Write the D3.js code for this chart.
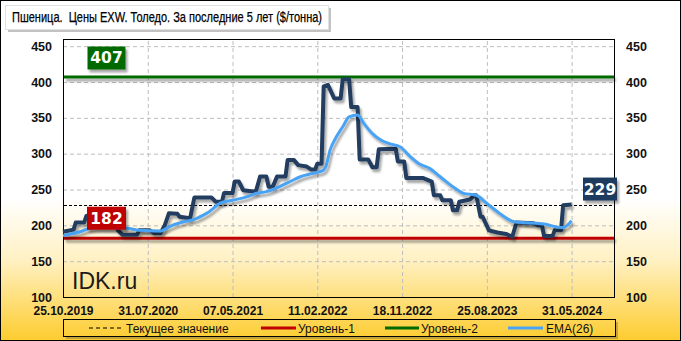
<!DOCTYPE html>
<html>
<head>
<meta charset="utf-8">
<script src="https://cdnjs.cloudflare.com/ajax/libs/d3/7.8.5/d3.min.js"></script>
<style>
body { margin: 0; background: #fff; }
svg text { font-family: "Liberation Sans", Arial, sans-serif; }
.axis-lbl text { font-weight: bold; font-size: 12.5px; fill: #111; }
.x-lbl text { font-weight: bold; font-size: 12px; fill: #111; }
.grid line { stroke: #bdbdbd; stroke-dasharray: 4,3; }
.legend-txt { font-size: 12px; fill: #111; }
</style>
</head>
<body>
<svg id="chart" width="681" height="341"></svg>
<script>
"use strict";

const TITLE = "Пшеница.  Цены EXW. Толедо. За последние 5 лет ($/тонна)";
const X_TICK_LABELS = ["25.10.2019", "31.07.2020", "07.05.2021", "11.02.2022", "18.11.2022", "25.08.2023", "31.05.2024"];
const Y_TICKS = [100, 150, 200, 250, 300, 350, 400, 450];

// weekly series, weeks counted from 25.10.2019
const PRICE_WEEKS = [0, 5, 6, 10, 11, 17, 22, 25, 26, 28, 35, 36, 41, 43, 46, 48, 50, 54, 55, 60,
    62, 70, 72, 75, 76, 80, 81, 83, 85, 91, 93, 96, 97, 99, 101, 105, 106, 109, 111, 115,
    117, 119, 120, 122, 123, 125, 128, 131, 132, 135, 136, 139, 140, 144, 146, 148, 149, 157, 158, 161,
    162, 170, 174, 175, 178, 179, 183, 184, 186, 187, 192, 194, 195, 197, 198, 201, 205, 209, 212, 214,
    222, 224, 226, 227, 231, 232, 235, 236, 240];
const PRICE_VALUES = [191, 194, 204, 204, 213, 217, 212, 200, 193, 187, 187, 193, 193, 189, 189, 200, 217, 216, 212, 210,
    239, 239, 233, 233, 245, 245, 261, 261, 249, 247, 268, 268, 254, 254, 268, 268, 291, 291, 284, 282,
    278, 278, 286, 286, 394, 396, 377, 377, 404, 404, 365, 365, 292, 292, 281, 281, 306, 307, 289, 289,
    266, 266, 261, 242, 242, 235, 235, 221, 221, 233, 236, 242, 242, 212, 212, 193, 190, 188, 184, 204,
    203, 200, 200, 185, 185, 193, 193, 228, 229];

const EMA_WEEKS = [0, 8, 13, 17, 30, 36, 46, 50, 57, 61, 66, 69, 74, 80, 87, 91, 96, 102, 107, 112,
    118, 123, 124, 126, 129, 132, 135, 139, 142, 146, 150, 154, 159, 164, 168, 173, 178, 184, 189, 195,
    200, 206, 213, 219, 227, 235, 236, 240];
const EMA_VALUES = [185.5, 191, 196, 197, 196, 193, 192, 198, 205, 207.4, 214, 219, 230.6, 235, 240, 244.6, 247, 253.8, 260.8, 267.8,
    272.5, 277, 281.7, 305, 323.5, 337.5, 351.4, 354, 342, 328, 319, 314, 309.6, 295.6, 286, 279.5, 267.8, 253.8, 244.6, 242,
    230.6, 216.7, 205, 203.6, 201.8, 197, 197, 206.4];

const LEVEL_1 = 182;
const LEVEL_2 = 407;
const CURRENT = 229;
const LEGEND_LABELS = ["Текущее значение", "Уровень-1", "Уровень-2", "EMA(26)"];

const plot = { left: 63, right: 614, top: 39, bottom: 297 };
const COLORS = { price: "#213c5e", ema: "#4aa3f5", lvl1: "#c00000", lvl2: "#006a00", tag229: "#1c3a5e" };

const parseDate = d3.timeParse("%d.%m.%Y");
const startDate = parseDate(X_TICK_LABELS[0]);
const weekToDate = w => d3.timeDay.offset(startDate, w * 7);

const svg = d3.select("#chart");
const defs = svg.append("defs");

const bg = defs.append("linearGradient")
    .attr("id", "bg").attr("gradientUnits", "userSpaceOnUse")
    .attr("x1", 0).attr("y1", 0).attr("x2", 0).attr("y2", 341);
bg.append("stop").attr("offset", "0").attr("stop-color", "#ffffff");
bg.append("stop").attr("offset", "0.58").attr("stop-color", "#ffffff");
bg.append("stop").attr("offset", "0.76").attr("stop-color", "#fff1c4");
bg.append("stop").attr("offset", "1").attr("stop-color", "#fdcc2e");

const shadow = defs.append("filter").attr("id", "shadow")
    .attr("filterUnits", "userSpaceOnUse")
    .attr("x", 0).attr("y", 0).attr("width", 681).attr("height", 341);
shadow.append("feDropShadow").attr("dx", 2).attr("dy", 3).attr("stdDeviation", 1.2)
    .attr("flood-color", "#000").attr("flood-opacity", 0.35);

// background + outer frame
svg.append("rect").attr("x", 0.5).attr("y", 0.5).attr("width", 680).attr("height", 340)
    .attr("fill", "url(#bg)").attr("stroke", "#000").attr("stroke-width", 1);

// title
svg.append("rect").attr("x", 8).attr("y", 8).attr("width", 323).attr("height", 24).attr("fill", "#9a9a9a").attr("opacity", 0.6);
svg.append("rect").attr("x", 5.5).attr("y", 5.5).attr("width", 323).attr("height", 24)
    .attr("fill", "#fff").attr("stroke", "#e0e0e0");
svg.append("text").attr("x", 12).attr("y", 22)
    .style("white-space", "pre")
    .style("font-family", "'Liberation Sans Narrow', 'Liberation Sans', Arial, sans-serif")
    .style("font-size", "14px").attr("fill", "#000")
    .attr("stroke", "#000").attr("stroke-width", 0.25)
    .attr("textLength", 310).attr("lengthAdjust", "spacingAndGlyphs")
    .text(TITLE);

// scales
const x = d3.scaleTime()
    .domain([startDate, d3.timeDay.offset(startDate, 260 * 7)])
    .range([plot.left, plot.right]);
const y = d3.scaleLinear().domain([100, 460]).range([plot.bottom, plot.top]);
const xTicks = X_TICK_LABELS.map(parseDate);

// grid
svg.append("g").attr("class", "grid")
    .attr("transform", `translate(${plot.left},0)`)
    .call(d3.axisLeft(y).tickValues(Y_TICKS).tickSize(-(plot.right - plot.left)).tickFormat(""))
    .call(g => g.select(".domain").remove());
svg.append("g").attr("class", "grid")
    .attr("transform", `translate(0,${plot.bottom})`)
    .call(d3.axisBottom(x).tickValues(xTicks).tickSize(-(plot.bottom - plot.top)).tickFormat(""))
    .call(g => g.select(".domain").remove());

// axes labels
svg.append("g").attr("class", "axis-lbl")
    .attr("transform", `translate(${plot.left},0)`)
    .call(d3.axisLeft(y).tickValues(Y_TICKS).tickSize(0).tickPadding(11))
    .call(g => g.select(".domain").remove());
svg.append("g").attr("class", "axis-lbl")
    .attr("transform", `translate(${plot.right},0)`)
    .call(d3.axisRight(y).tickValues(Y_TICKS).tickSize(0).tickPadding(12))
    .call(g => g.select(".domain").remove());
svg.append("g").attr("class", "x-lbl")
    .attr("transform", `translate(0,${plot.bottom})`)
    .call(d3.axisBottom(x).tickValues(xTicks).tickSize(0).tickPadding(9).tickFormat(d3.timeFormat("%d.%m.%Y")))
    .call(g => g.select(".domain").remove());

// frame
svg.append("rect").attr("x", plot.left + 0.5).attr("y", plot.top + 0.5)
    .attr("width", plot.right - plot.left).attr("height", plot.bottom - plot.top)
    .attr("fill", "none").attr("stroke", "#000");

// watermark
svg.append("text").attr("x", 72).attr("y", 288.5)
    .style("font-size", "23px").attr("fill", "#1a1a1a").text("IDK.ru");

// level lines (thin rects so the shadow filter has an area to work on)
function levelLine(v, color) {
    svg.append("rect")
        .attr("x", plot.left + 1).attr("width", plot.right - plot.left - 1)
        .attr("y", y(v) - 1.5).attr("height", 3)
        .attr("fill", color).attr("filter", "url(#shadow)");
}
levelLine(LEVEL_1, COLORS.lvl1);
levelLine(LEVEL_2, COLORS.lvl2);
svg.append("line")
    .attr("x1", plot.left + 1).attr("x2", plot.right)
    .attr("y1", Math.round(y(CURRENT)) + 0.5).attr("y2", Math.round(y(CURRENT)) + 0.5)
    .attr("stroke", "#000").attr("stroke-width", 1).attr("stroke-dasharray", "3,2");

// series
const price = PRICE_WEEKS.map((w, i) => ({ date: weekToDate(w), value: PRICE_VALUES[i] }));
const ema = EMA_WEEKS.map((w, i) => ({ date: weekToDate(w), value: EMA_VALUES[i] }));
const line = d3.line().x(d => x(d.date)).y(d => y(d.value));

svg.append("path").datum(price)
    .attr("d", line).attr("fill", "none")
    .attr("stroke", COLORS.price).attr("stroke-width", 4)
    .attr("stroke-linejoin", "round").attr("filter", "url(#shadow)");
svg.append("path").datum(ema)
    .attr("d", line.curve(d3.curveMonotoneX)).attr("fill", "none")
    .attr("stroke", COLORS.ema).attr("stroke-width", 3)
    .attr("stroke-linejoin", "round").attr("filter", "url(#shadow)");

// value tags, placed just above their level
function tag(cx, v, lift, w, fill, txt) {
    const g = svg.append("g");
    const h = 23;
    const cy = y(v) - lift;
    g.append("rect").attr("x", cx - w / 2).attr("y", cy - h / 2)
        .attr("width", w).attr("height", h).attr("fill", fill)
        .attr("filter", "url(#shadow)");
    g.append("text").attr("x", cx).attr("y", cy + 5.5)
        .attr("text-anchor", "middle").attr("fill", "#fff")
        .style("font-weight", "bold").style("font-size", "15.5px")
        .style("font-family", "'DejaVu Sans', sans-serif")
        .text(txt);
}
tag(106.5, LEVEL_2, 19, 38, COLORS.lvl2, String(LEVEL_2));
tag(106.5, LEVEL_1, 20, 39, COLORS.lvl1, String(LEVEL_1));
tag(600, CURRENT, 15.5, 34, COLORS.tag229, String(CURRENT));

// legend
svg.append("rect").attr("x", 66).attr("y", 322).attr("width", 552).attr("height", 17)
    .attr("fill", "#8a7a40").attr("opacity", 0.5);
svg.append("rect").attr("x", 63.5).attr("y", 319.5).attr("width", 552).attr("height", 17)
    .attr("fill", "url(#bg)").attr("stroke", "#000");
const legendItems = [
    { x1: 89, x2: 122, tx: 126, color: "#000", width: 1, dash: "4,3" },
    { x1: 261, x2: 296, tx: 298, color: COLORS.lvl1, width: 3 },
    { x1: 385, x2: 419, tx: 421, color: COLORS.lvl2, width: 3 },
    { x1: 508, x2: 543, tx: 546, color: COLORS.ema, width: 3 }
];
legendItems.forEach((it, i) => {
    const l = svg.append("line").attr("x1", it.x1).attr("x2", it.x2)
        .attr("y1", 328).attr("y2", 328)
        .attr("stroke", it.color).attr("stroke-width", it.width);
    if (it.dash) l.attr("stroke-dasharray", it.dash);
    svg.append("text").attr("class", "legend-txt")
        .attr("x", it.tx).attr("y", 332.5).text(LEGEND_LABELS[i]);
});
</script>
</body>
</html>
